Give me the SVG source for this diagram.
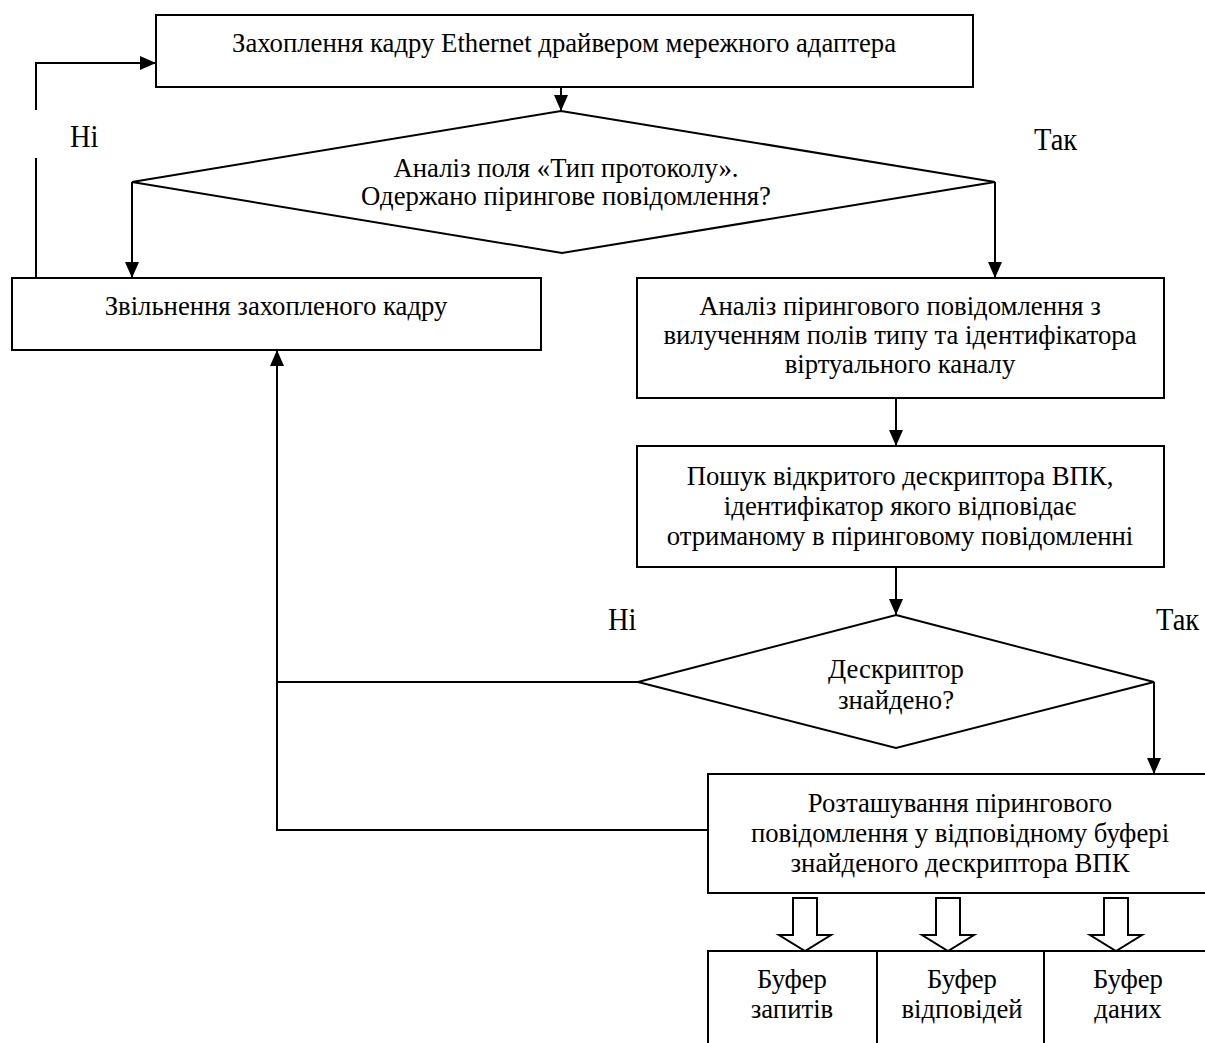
<svg xmlns="http://www.w3.org/2000/svg" width="1205" height="1043" viewBox="0 0 1205 1043">
<style>
  .box{fill:#fff;stroke:#000;stroke-width:2}
  .ln{fill:none;stroke:#000;stroke-width:2}
  .t{font-family:"Liberation Serif","Times New Roman",serif;font-size:28px;fill:#000;text-anchor:middle}
  .lbl{font-family:"Liberation Serif","Times New Roman",serif;font-size:31px;fill:#000}
  .blk{fill:#fff;stroke:#000;stroke-width:2;stroke-linejoin:miter}
</style>
<defs>
  <marker id="ah" markerUnits="userSpaceOnUse" markerWidth="16" markerHeight="14" refX="16" refY="7" orient="auto">
    <path d="M0,0 L16,7 L0,14 z" fill="#000"/>
  </marker>
</defs>
<rect width="1205" height="1043" fill="#fff"/>

<g id="connectors">
  <line class="ln" x1="561" y1="87" x2="561" y2="111" marker-end="url(#ah)"/>
  <polyline class="ln" points="132,182 132,278" marker-end="url(#ah)"/>
  <polyline class="ln" points="995,182 995,278" marker-end="url(#ah)"/>
  <line class="ln" x1="36" y1="278" x2="36" y2="158"/>
  <polyline class="ln" points="36,110 36,63 156,63" marker-end="url(#ah)"/>
  <line class="ln" x1="896" y1="398" x2="896" y2="446" marker-end="url(#ah)"/>
  <line class="ln" x1="896" y1="567" x2="896" y2="615" marker-end="url(#ah)"/>
  <polyline class="ln" points="1154,682 1154,774" marker-end="url(#ah)"/>
  <line class="ln" x1="638" y1="682" x2="277" y2="682"/>
  <polyline class="ln" points="708,830 277,830 277,350" marker-end="url(#ah)"/>
  <polygon class="blk" points="793,898 817,898 817,935 831,935 805,951 779,935 793,935"/>
  <polygon class="blk" points="936,898 960,898 960,935 974,935 948,951 922,935 936,935"/>
  <polygon class="blk" points="1104,898 1128,898 1128,935 1142,935 1116,951 1090,935 1104,935"/>
</g>

<g id="labels">
  <text class="lbl" transform="translate(70,147) scale(0.92,1)">Ні</text>
  <text class="lbl" transform="translate(1034,150) scale(0.92,1)">Так</text>
  <text class="lbl" transform="translate(608,630) scale(0.92,1)">Ні</text>
  <text class="lbl" transform="translate(1156,630) scale(0.92,1)">Так</text>
</g>

<g id="n-capture">
  <rect class="box" x="156" y="15" width="817" height="72"/>
  <text class="t" transform="translate(564,52) scale(0.955,1)">Захоплення кадру Ethernet драйвером мережного адаптера</text>
</g>

<g id="n-decision1">
  <polygon class="box" points="561,111 995,182 562,253 132,182"/>
  <text class="t" transform="translate(566,177) scale(0.955,1)">Аналіз поля «Тип протоколу».</text>
  <text class="t" transform="translate(566,205) scale(0.955,1)">Одержано пірингове повідомлення?</text>
</g>

<g id="n-release">
  <rect class="box" x="12" y="278" width="529" height="72"/>
  <text class="t" transform="translate(276,315) scale(0.955,1)">Звільнення захопленого кадру</text>
</g>

<g id="n-analyze">
  <rect class="box" x="637" y="278" width="527" height="120"/>
  <text class="t" transform="translate(900,315) scale(0.955,1)">Аналіз пірингового повідомлення з</text>
  <text class="t" transform="translate(900,344) scale(0.955,1)">вилученням полів типу та ідентифікатора</text>
  <text class="t" transform="translate(900,373) scale(0.955,1)">віртуального каналу</text>
</g>

<g id="n-search">
  <rect class="box" x="637" y="446" width="527" height="121"/>
  <text class="t" transform="translate(900,485) scale(0.955,1)">Пошук відкритого дескриптора ВПК,</text>
  <text class="t" transform="translate(900,515) scale(0.955,1)">ідентифікатор якого відповідає</text>
  <text class="t" transform="translate(900,545) scale(0.955,1)">отриманому в піринговому повідомленні</text>
</g>

<g id="n-decision2">
  <polygon class="box" points="896,615 1154,682 896,748 638,682"/>
  <text class="t" transform="translate(896,678) scale(0.955,1)">Дескриптор</text>
  <text class="t" transform="translate(896,709) scale(0.955,1)">знайдено?</text>
</g>

<g id="n-place">
  <rect class="box" x="708" y="774" width="504" height="119"/>
  <text class="t" transform="translate(960,812) scale(0.955,1)">Розташування пірингового</text>
  <text class="t" transform="translate(960,842) scale(0.955,1)">повідомлення у відповідному буфері</text>
  <text class="t" transform="translate(960,872) scale(0.955,1)">знайденого дескриптора ВПК</text>
</g>

<g id="n-buf-req">
  <rect class="box" x="708" y="951" width="169" height="100"/>
  <text class="t" transform="translate(792,988) scale(0.955,1)">Буфер</text>
  <text class="t" transform="translate(792,1018) scale(0.955,1)">запитів</text>
</g>
<g id="n-buf-resp">
  <rect class="box" x="877" y="951" width="167" height="100"/>
  <text class="t" transform="translate(962,988) scale(0.955,1)">Буфер</text>
  <text class="t" transform="translate(962,1018) scale(0.955,1)">відповідей</text>
</g>
<g id="n-buf-data">
  <rect class="box" x="1044" y="951" width="168" height="100"/>
  <text class="t" transform="translate(1128,988) scale(0.955,1)">Буфер</text>
  <text class="t" transform="translate(1128,1018) scale(0.955,1)">даних</text>
</g>
</svg>
